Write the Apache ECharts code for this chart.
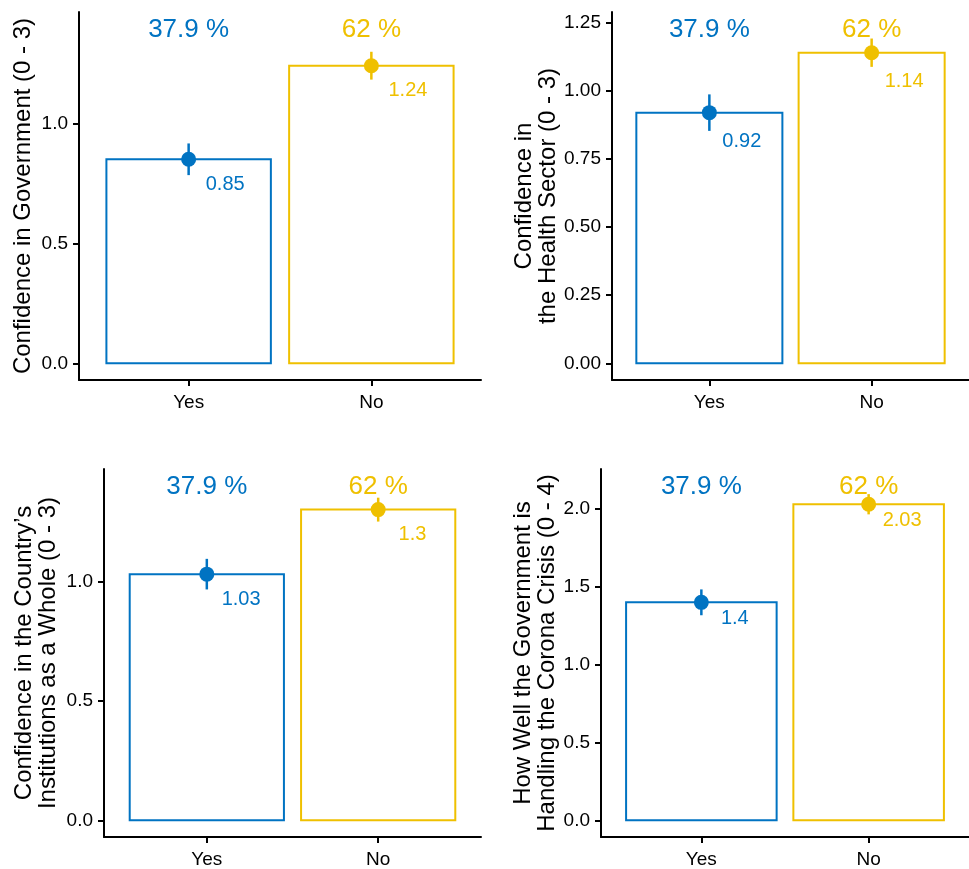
<!DOCTYPE html>
<html>
<head>
<meta charset="utf-8">
<script src="https://cdn.jsdelivr.net/npm/echarts@6/dist/echarts.min.js"></script>
<style>
  html, body { margin: 0; padding: 0; background: #fff; }
  #chart { width: 969px; height: 869px; }
</style>
</head>
<body>
<div id="chart"></div>
<script>
// Respondent groups and their share of the sample
const categories = ['Yes', 'No'];
const groupShare = ['37.9 %', '62 %'];
const groupColors = ['#0073C2', '#EFC000'];

// Mean score and standard error per group, one pair of arrays per outcome
const governmentMean = [0.85, 1.24];
const governmentSe = [0.066, 0.058];
const healthMean = [0.92, 1.14];
const healthSe = [0.067, 0.052];
const institutionsMean = [1.03, 1.3];
const institutionsSe = [0.064, 0.05];
const crisisMean = [1.4, 2.03];
const crisisSe = [0.083, 0.065];

// Height at which the group share is printed in each panel
const shareLabelY = [1.394, 1.228, 1.40, 2.149];

// Axis titles and tick values
const axisTitles = [
  'Confidence in Government (0 - 3)',
  'Confidence in\nthe Health Sector (0 - 3)',
  'Confidence in the Country\u2019s\nInstitutions as a Whole (0 - 3)',
  'How Well the Government is\nHandling the Corona Crisis (0 - 4)'
];
const yTicks = [
  [0, 0.5, 1.0],
  [0, 0.25, 0.5, 0.75, 1.0, 1.25],
  [0, 0.5, 1.0],
  [0, 0.5, 1.0, 1.5, 2.0]
];
const yTickDecimals = [1, 2, 1, 1];

const panels = [
  { mean: governmentMean, se: governmentSe },
  { mean: healthMean, se: healthSe },
  { mean: institutionsMean, se: institutionsSe },
  { mean: crisisMean, se: crisisSe }
];

// Panel placement on the page
const layout = [
  { left: 79, top: 12, width: 402, height: 368, nameGap: 44 },
  { left: 612, top: 12, width: 366, height: 368, nameGap: 51 },
  { left: 104, top: 469, width: 377, height: 369, nameGap: 44 },
  { left: 601, top: 469, width: 378, height: 369, nameGap: 39 }
];

const FONT = 'Liberation Sans, Arial, sans-serif';
const grids = [], xAxes = [], yAxes = [], series = [];

panels.forEach((p, i) => {
  const L = layout[i];
  const top = shareLabelY[i];
  grids.push({ left: L.left, top: L.top, width: L.width, height: L.height, containLabel: false });

  xAxes.push({
    type: 'value', gridIndex: i, min: 0.4, max: 2.6,
    splitLine: { show: false },
    axisLine: { show: true, onZero: false, lineStyle: { color: '#000', width: 2 } },
    axisTick: { show: true, length: 6, lineStyle: { color: '#000', width: 2 }, customValues: [1, 2] },
    axisLabel: {
      customValues: [1, 2], margin: 13,
      formatter: v => categories[Math.round(v) - 1] || '',
      color: '#000', fontSize: 19, fontFamily: FONT
    }
  });

  yAxes.push({
    type: 'value', gridIndex: i, min: -0.05 * top, max: 1.05 * top,
    name: axisTitles[i], nameLocation: 'middle', nameRotate: 90, nameGap: L.nameGap,
    nameTextStyle: { color: '#000', fontSize: 24, fontFamily: FONT, lineHeight: 24 },
    splitLine: { show: false },
    axisLine: { show: true, onZero: false, lineStyle: { color: '#000', width: 2 } },
    axisTick: { show: true, length: 6, lineStyle: { color: '#000', width: 2 }, customValues: yTicks[i] },
    axisLabel: {
      customValues: yTicks[i], margin: 11,
      formatter: v => v.toFixed(yTickDecimals[i]),
      color: '#000', fontSize: 19, fontFamily: FONT
    }
  });

  const rows = p.mean.map((m, k) => [k + 1, m, p.se[k]]);

  // Outlined bars
  series.push({
    type: 'custom', xAxisIndex: i, yAxisIndex: i, data: rows, z: 2,
    renderItem: (params, api) => {
      const x = api.value(0), y = api.value(1);
      const a = api.coord([x - 0.45, y]);
      const b = api.coord([x + 0.45, 0]);
      return {
        type: 'rect',
        shape: { x: a[0], y: a[1], width: b[0] - a[0], height: b[1] - a[1] },
        style: { fill: '#fff', stroke: groupColors[params.dataIndex], lineWidth: 2 }
      };
    }
  });

  // Group share printed above each bar
  series.push({
    type: 'custom', xAxisIndex: i, yAxisIndex: i, data: rows, z: 3,
    renderItem: (params, api) => {
      const c = api.coord([api.value(0), top]);
      return {
        type: 'text',
        style: {
          x: c[0], y: c[1] + 1, text: groupShare[params.dataIndex],
          fill: groupColors[params.dataIndex], fontSize: 26, fontFamily: FONT,
          align: 'center', verticalAlign: 'middle'
        }
      };
    }
  });

  // Mean with standard-error bar and its value
  series.push({
    type: 'custom', xAxisIndex: i, yAxisIndex: i, data: rows, z: 4,
    renderItem: (params, api) => {
      const x = api.value(0), y = api.value(1), se = api.value(2);
      const col = groupColors[params.dataIndex];
      const hi = api.coord([x, y + se]);
      const lo = api.coord([x, y - se]);
      const c = api.coord([x, y]);
      const lab = api.coord([x + 0.2, y - 0.105]);
      return {
        type: 'group',
        children: [
          { type: 'line', shape: { x1: hi[0], y1: hi[1], x2: lo[0], y2: lo[1] },
            style: { stroke: col, lineWidth: 2.5 } },
          { type: 'circle', shape: { cx: c[0], cy: c[1], r: 7.5 }, style: { fill: col } },
          { type: 'text', style: {
              x: lab[0], y: lab[1], text: String(y), fill: col,
              fontSize: 20, fontFamily: FONT, align: 'center', verticalAlign: 'middle' } }
        ]
      };
    }
  });
});

const chart = echarts.init(document.getElementById('chart'), null, { renderer: 'canvas' });
chart.setOption({
  animation: false,
  backgroundColor: '#fff',
  grid: grids,
  xAxis: xAxes,
  yAxis: yAxes,
  series: series
});
</script>
</body>
</html>
